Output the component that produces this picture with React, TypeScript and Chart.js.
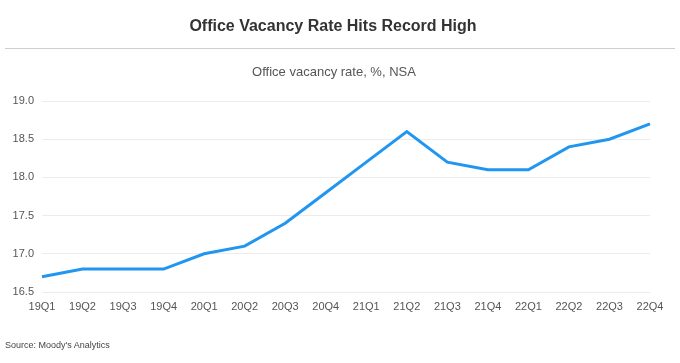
import React, { useEffect, useRef } from "react";
import { Chart, registerables } from "chart.js";

Chart.register(...registerables);

const categories = [
  "19Q1", "19Q2", "19Q3", "19Q4",
  "20Q1", "20Q2", "20Q3", "20Q4",
  "21Q1", "21Q2", "21Q3", "21Q4",
  "22Q1", "22Q2", "22Q3", "22Q4",
];
const vacancyRate = [
  16.7, 16.8, 16.8, 16.8,
  17.0, 17.1, 17.4, 17.8,
  18.2, 18.6, 18.2, 18.1,
  18.1, 18.4, 18.5, 18.7,
];
const yMin = 16.5;
const yMax = 19.0;
const yStep = 0.5;

const titleText = "Office Vacancy Rate Hits Record High";
const subtitleText = "Office vacancy rate, %, NSA";
const sourceText = "Source: Moody's Analytics";

const FONT = "'Liberation Sans', Arial, sans-serif";

export default function App() {
  const canvasRef = useRef<HTMLCanvasElement | null>(null);

  useEffect(() => {
    document.body.style.margin = "0";
    const canvas = canvasRef.current;
    if (!canvas) return;
    const chart = new Chart(canvas, {
      type: "line",
      data: {
        labels: categories,
        datasets: [
          {
            data: vacancyRate,
            borderColor: "#2196f0",
            borderWidth: 3,
            pointRadius: 0,
            tension: 0,
            fill: false,
          },
        ],
      },
      options: {
        animation: false,
        responsive: false,
        maintainAspectRatio: false,
        layout: { padding: { top: 101, right: 30, bottom: 0, left: 0 } },
        plugins: {
          legend: { display: false },
          title: { display: false },
          tooltip: { enabled: false },
        },
        scales: {
          x: {
            offset: false,
            grid: { display: false, drawTicks: false },
            border: { display: false },
            ticks: {
              color: "#555",
              font: { family: FONT, size: 11 },
              padding: 8,
              maxRotation: 0,
              autoSkip: false,
            },
            afterFit: (scale: any) => {
              scale.height = 71;
            },
          },
          y: {
            min: yMin,
            max: yMax,
            grid: { color: "#ececec", drawTicks: false, lineWidth: 1 },
            border: { display: false },
            ticks: {
              stepSize: yStep,
              color: "#555",
              font: { family: FONT, size: 11 },
              padding: 8,
              callback: (v: any) => Number(v).toFixed(1),
            },
            afterFit: (scale: any) => {
              scale.width = 42;
            },
          },
        },
      },
    });
    return () => chart.destroy();
  }, []);

  return (
    <div
      style={{
        position: "relative",
        width: 680,
        height: 363,
        fontFamily: FONT,
        background: "#fff",
        overflow: "hidden",
      }}
    >
      <canvas
        ref={canvasRef}
        width={680}
        height={363}
        style={{ position: "absolute", left: 0, top: 0 }}
      />
      <div
        style={{
          position: "absolute",
          top: 16,
          left: 0,
          width: 666,
          textAlign: "center",
          fontWeight: "bold",
          fontSize: 16,
          lineHeight: "20px",
          color: "#333",
        }}
      >
        {titleText}
      </div>
      <div
        style={{
          position: "absolute",
          top: 48,
          left: 5,
          width: 670,
          height: 1,
          background: "#cfcfcf",
        }}
      />
      <div
        style={{
          position: "absolute",
          top: 63,
          left: 0,
          width: 668,
          textAlign: "center",
          fontSize: 13,
          lineHeight: "17px",
          color: "#555",
        }}
      >
        {subtitleText}
      </div>
      <div
        style={{
          position: "absolute",
          top: 339,
          left: 5,
          fontSize: 9,
          lineHeight: "12px",
          color: "#444",
        }}
      >
        {sourceText}
      </div>
    </div>
  );
}
